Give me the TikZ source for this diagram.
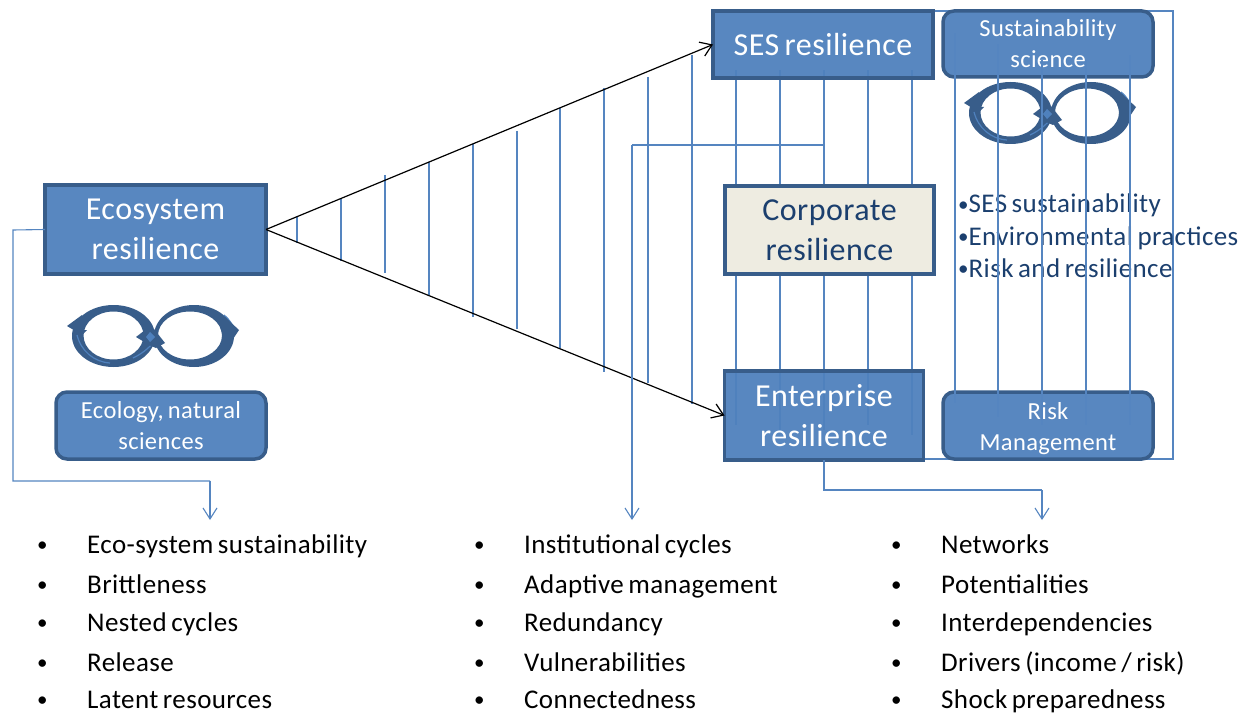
\documentclass[tikz,border=0pt]{standalone}
\usepackage{fontspec}
\setmainfont[LetterSpace=1.5,WordSpace=0.7]{Carlito}
\usetikzlibrary{arrows.meta}
\definecolor{boxblue}{HTML}{4F81BD}
\definecolor{boxedge}{HTML}{385D8A}
\definecolor{linkblue}{HTML}{5585C0}
\definecolor{corpfill}{HTML}{EEECE1}
\definecolor{darktext}{HTML}{1B3F6E}
\newcommand{\smallbullet}{\raisebox{1.5pt}{\fontsize{21}{21}\selectfont •}}
\tikzset{
  bluebox/.style={shape=rectangle,draw=boxedge,fill=boxblue,line width=3.5pt,outer sep=0pt,fill opacity=0.95,text opacity=1,text=white,align=center,inner sep=0pt,font=\fontsize{32}{40}\selectfont},
  roundbox/.style={bluebox,rounded corners=11pt,font=\fontsize{24.5}{31}\selectfont},
  listtext/.style={anchor=base west,inner sep=0pt,font=\fontsize{27}{30}\selectfont},
  sidetext/.style={anchor=base west,inner sep=0pt,text=darktext,font=\fontsize{27}{30}\selectfont},
  link/.style={draw=linkblue,line width=1.1pt},
  linkarrow/.style={link,-{Straight Barb[length=11pt,width=14pt]}},
  blackarrow/.style={draw=black,line width=1.2pt,-{Straight Barb[length=11pt,width=15pt]}},
  cycles/.pic={
    \fill[boxedge,even odd rule] (45.5,31) ellipse [x radius=41.5,y radius=31] (45.5,30.5) ellipse [x radius=30,y radius=24];
    \fill[boxedge,even odd rule] (126,31) ellipse [x radius=40,y radius=31] (122,30.5) ellipse [x radius=32,y radius=24];
    \draw[boxblue,line width=1.2pt] (9,30) .. controls (13,46) and (26,57) .. (42,58);
    \draw[boxblue,line width=1.2pt] (156,10) .. controls (162,15) and (165,20) .. (166,25);
    \draw[boxblue,line width=1.2pt] (65,53) .. controls (76,48) and (84,40) .. (90,32);
    \fill[boxedge] (-1,21) -- (14,10) -- (12,25) -- (19,25) -- (14,30) -- cycle;
    \fill[boxedge] (171,25) -- (157,12) -- (152,22) -- (156,34) -- (161,40) -- cycle;
    \fill[boxedge] (68,32) -- (81,22) -- (88,32) -- (78,38) -- cycle;
    \fill[boxedge] (97,38) -- (86,24) -- (76,38) -- (88,43) -- cycle;
    \fill[boxblue] (78,32) -- (82,27) -- (87,32) -- (82,37) -- cycle;
  }
}
\begin{document}
\begin{tikzpicture}[x=1pt,y=-1pt]
        \useasboundingbox (0,0) rectangle (1247,714);

        % hatching of the wedge
        \coordinate (h1a) at (297,217); \coordinate (h1b) at (297,243);
        \coordinate (h2a) at (341,198); \coordinate (h2b) at (341,261);
        \coordinate (h3a) at (385,175); \coordinate (h3b) at (385,273);
        \coordinate (h4a) at (429,162); \coordinate (h4b) at (429,295);
        \coordinate (h5a) at (473,144); \coordinate (h5b) at (473,317);
        \coordinate (h6a) at (517,131); \coordinate (h6b) at (517,329);
        \coordinate (h7a) at (560,108); \coordinate (h7b) at (560,348);
        \coordinate (h8a) at (604,88);  \coordinate (h8b) at (604,372);
        \coordinate (h9a) at (648,77);  \coordinate (h9b) at (648,383);
        \coordinate (h10a) at (692,55); \coordinate (h10b) at (692,404);
        \path [link](h1a) edge (h1b);
        \path [link](h2a) edge (h2b);
        \path [link](h3a) edge (h3b);
        \path [link](h4a) edge (h4b);
        \path [link](h5a) edge (h5b);
        \path [link](h6a) edge (h6b);
        \path [link](h7a) edge (h7b);
        \path [link](h8a) edge (h8b);
        \path [link](h9a) edge (h9b);
        \path [link](h10a) edge (h10b);

        % verticals between the three right hand boxes
        \coordinate (v1a) at (736,70);  \coordinate (v1b) at (736,425);
        \coordinate (v2a) at (780,70);  \coordinate (v2b) at (780,430);
        \coordinate (v3a) at (824,70);  \coordinate (v3b) at (824,430);
        \coordinate (v4a) at (868,70);  \coordinate (v4b) at (868,425);
        \coordinate (v5a) at (912,70);  \coordinate (v5b) at (912,435);
        \path [link](v1a) edge (v1b);
        \path [link](v2a) edge (v2b);
        \path [link](v3a) edge (v3b);
        \path [link](v4a) edge (v4b);
        \path [link](v5a) edge (v5b);

        % outer frame
        \coordinate (fr1) at (1173,459);
        \coordinate (fr2) at (1173,11);
        \coordinate (fr3) at (925,459);
        \coordinate (fr4) at (933,11);
        \draw [link] (fr3) -- (fr1) -- (fr2) -- (fr4);

        \node[bluebox,minimum width=220pt,minimum height=67pt] (ses) at (823,44.5) {SES resilience};
        \node[bluebox,minimum width=221pt,minimum height=89pt] (eco) at (155.5,229.5) {Ecosystem\\resilience};
        \node[bluebox,fill=corpfill,fill opacity=1,text=darktext,minimum width=209pt,minimum height=88pt] (corp) at (829.5,230) {Corporate\\resilience};
        \node[bluebox,minimum width=199pt,minimum height=89pt] (ent) at (824,415.5) {Enterprise\\resilience};
        \node[roundbox,minimum width=210pt,minimum height=66pt] (sust) at (1048,44) {Sustainability\\science};
        \node[roundbox,minimum width=210pt,minimum height=67pt] (risk) at (1048,425.5) {\rule{0pt}{24pt}Risk\\Management};
        \node[roundbox,minimum width=210pt,minimum height=67pt] (ecol) at (161,425.5) {Ecology, natural\\sciences};

        \pic at (68,305) {cycles};
        \pic at (965,82) {cycles};

        \node[sidetext] (s1) at (958,213) {\smallbullet SES sustainability};
        \node[sidetext] (s2) at (958,245) {\smallbullet Environmental practices};
        \node[sidetext] (s3) at (958,277) {\smallbullet Risk and resilience};

        % verticals between the two right hand rounded boxes
        \coordinate (w1a) at (955,33);   \coordinate (w1b) at (955,403);
        \coordinate (w2a) at (998,44);   \coordinate (w2b) at (998,417);
        \coordinate (w3a) at (1042,60);  \coordinate (w3b) at (1042,425);
        \coordinate (w4a) at (1086,60);  \coordinate (w4b) at (1086,425);
        \coordinate (w5a) at (1130,55);  \coordinate (w5b) at (1130,425);
        \path [link](w1a) edge (w1b);
        \path [link](w2a) edge (w2b);
        \path [link](w3a) edge (w3b);
        \path [link](w4a) edge (w4b);
        \path [link](w5a) edge (w5b);

        % wedge
        \draw [blackarrow] (eco.east) -- (ses.west);
        \draw [blackarrow] (eco.east) -- (ent.west);

        % the three lists
        \node[listtext] (b1) at (37,553) {\smallbullet};
        \node[listtext] (b2) at (37,593) {\smallbullet};
        \node[listtext] (b3) at (37,631) {\smallbullet};
        \node[listtext] (b4) at (37,671) {\smallbullet};
        \node[listtext] (b5) at (37,708) {\smallbullet};
        \node[listtext] (a1) at (87,553) {Eco-system sustainability};
        \node[listtext] (a2) at (87,593) {Brittleness};
        \node[listtext] (a3) at (87,631) {Nested cycles};
        \node[listtext] (a4) at (87,671) {Release};
        \node[listtext] (a5) at (87,708) {Latent resources};

        \node[listtext] (c1) at (474,553) {\smallbullet};
        \node[listtext] (c2) at (474,593) {\smallbullet};
        \node[listtext] (c3) at (474,631) {\smallbullet};
        \node[listtext] (c4) at (474,671) {\smallbullet};
        \node[listtext] (c5) at (474,708) {\smallbullet};
        \node[listtext] (d1) at (524,553) {Institutional cycles};
        \node[listtext] (d2) at (524,593) {Adaptive management};
        \node[listtext] (d3) at (524,631) {Redundancy};
        \node[listtext] (d4) at (524,671) {Vulnerabilities};
        \node[listtext] (d5) at (524,708) {Connectedness};

        \node[listtext] (e1) at (891,553) {\smallbullet};
        \node[listtext] (e2) at (891,593) {\smallbullet};
        \node[listtext] (e3) at (891,631) {\smallbullet};
        \node[listtext] (e4) at (891,671) {\smallbullet};
        \node[listtext] (e5) at (891,708) {\smallbullet};
        \node[listtext] (f1) at (941,553) {Networks};
        \node[listtext] (f2) at (941,593) {Potentialities};
        \node[listtext] (f3) at (941,631) {Interdependencies};
        \node[listtext] (f4) at (941,671) {Drivers (income / risk)};
        \node[listtext] (f5) at (941,708) {Shock preparedness};

        % links down to the lists
        \coordinate (l1) at (13,230);
        \coordinate (l2) at (13,481);
        \coordinate (l3) at (210,481);
        \coordinate (l4) at (210,520);
        \draw [link] (eco.west) -- (l1) -- (l2) -- (l3);
        \draw [linkarrow] (l3) -- (l4);

        \coordinate (m1) at (824,145);
        \coordinate (m2) at (632,145);
        \coordinate (m3) at (632,520);
        \draw [link] (m1) -- (m2);
        \draw [linkarrow] (m2) -- (m3);

        \coordinate (r1) at (824,490);
        \coordinate (r2) at (1042,490);
        \coordinate (r3) at (1042,520);
        \draw [link] (ent.south) -- (r1) -- (r2);
        \draw [linkarrow] (r2) -- (r3);
\end{tikzpicture}
\end{document}
